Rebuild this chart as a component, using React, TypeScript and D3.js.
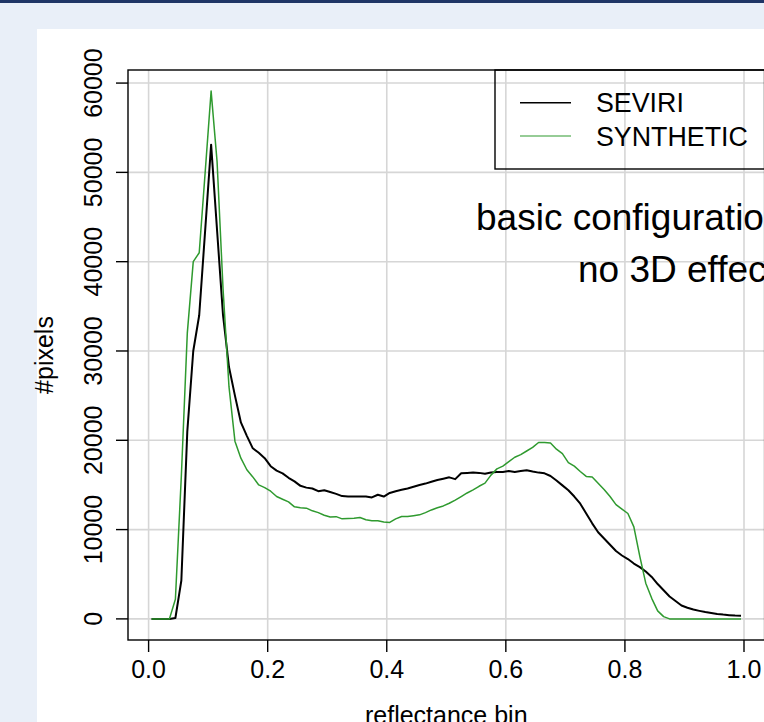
import React, { useEffect } from "react";
import * as d3 from "d3";

const bins: number[] = [
  0.005, 0.015, 0.025, 0.035, 0.045, 0.055, 0.065, 0.075, 0.085, 0.095,
  0.105, 0.115, 0.125, 0.135, 0.145, 0.155, 0.165, 0.175, 0.185, 0.195,
  0.205, 0.215, 0.225, 0.235, 0.245, 0.255, 0.265, 0.275, 0.285, 0.295,
  0.305, 0.315, 0.325, 0.335, 0.345, 0.355, 0.365, 0.375, 0.385, 0.395,
  0.405, 0.415, 0.425, 0.435, 0.445, 0.455, 0.465, 0.475, 0.485, 0.495,
  0.505, 0.515, 0.525, 0.535, 0.545, 0.555, 0.565, 0.575, 0.585, 0.595,
  0.605, 0.615, 0.625, 0.635, 0.645, 0.655, 0.665, 0.675, 0.685, 0.695,
  0.705, 0.715, 0.725, 0.735, 0.745, 0.755, 0.765, 0.775, 0.785, 0.795,
  0.805, 0.815, 0.825, 0.835, 0.845, 0.855, 0.865, 0.875, 0.885, 0.895,
  0.905, 0.915, 0.925, 0.935, 0.945, 0.955, 0.965, 0.975, 0.985, 0.995,
];

const seviri: number[] = [
  0, 0, 0, 0, 100, 4300, 21000, 30000, 34000, 43500,
  53100, 43500, 34000, 28200, 25000, 22000, 20500, 19100, 18600, 18000,
  17100, 16600, 16300, 15800, 15400, 14900, 14700, 14600, 14300, 14400,
  14200, 14000, 13750, 13700, 13700, 13700, 13700, 13600, 13900, 13700,
  14100, 14300, 14450, 14600, 14800, 15000, 15150, 15350, 15550, 15700,
  15850, 15650, 16300, 16350, 16400, 16350, 16250, 16400, 16450, 16450,
  16550, 16450, 16550, 16650, 16500, 16380, 16300, 16000, 15500, 14950,
  14400, 13700, 12900, 11800, 10700, 9700, 9000, 8300, 7600, 7100,
  6700, 6200, 5800, 5300, 4700, 3900, 3200, 2500, 2000, 1500,
  1250, 1050, 900, 760, 660, 560, 480, 420, 370, 340,
];

const synthetic: number[] = [
  0, 0, 0, 0, 2200, 16000, 32000, 40000, 41000, 50000,
  59100, 51200, 37000, 26000, 19900, 18000, 16700, 15900, 15000, 14700,
  14300, 13700, 13400, 13100, 12550, 12450, 12400, 12100, 11900, 11600,
  11400, 11450, 11200, 11250, 11280, 11350, 11100, 11000, 10980, 10850,
  10800, 11200, 11460, 11460, 11550, 11650, 11900, 12200, 12450, 12650,
  12950, 13300, 13700, 14100, 14450, 14850, 15200, 16100, 16800, 17100,
  17600, 18100, 18400, 18800, 19200, 19750, 19750, 19700, 19000, 18500,
  17500, 17100, 16500, 15950, 15900, 15200, 14500, 13700, 12800, 12300,
  11800, 10300, 7000, 4000, 2300, 900, 250, 0, 0, 0,
  0, 0, 0, 0, 0, 0, 0, 0, 0, 0,
];

const xTicks: number[] = [0, 0.2, 0.4, 0.6, 0.8, 1.0];
const xTickLabels: string[] = ["0.0", "0.2", "0.4", "0.6", "0.8", "1.0"];
const yTicks: number[] = [0, 10000, 20000, 30000, 40000, 50000, 60000];
const yTickLabels: string[] = ["0", "10000", "20000", "30000", "40000", "50000", "60000"];
const seriesNames: string[] = ["SEVIRI", "SYNTHETIC"];
const seriesColors: string[] = ["#000000", "#2f9a2f"];
const noteLines: string[] = ["basic configuration", "no 3D effects"];

const W = 764;
const H = 722;
const FONT = "'Liberation Sans', Arial, Helvetica, sans-serif";

export default function App() {
  useEffect(() => {
    document.body.style.margin = "0";
  }, []);

  const left = 128;
  const right = 764.6;
  const top = 70;
  const bottom = 640;

  const xMin = 0.005, xMax = 0.995;
  const xPad = (xMax - xMin) * 0.04;
  const x = d3.scaleLinear().domain([xMin - xPad, xMax + xPad]).range([left, right]);
  const yMaxData = 59100;
  const yPad = yMaxData * 0.04;
  const y = d3.scaleLinear().domain([-yPad, yMaxData + yPad]).range([bottom, top]);

  const line = d3
    .line<number>()
    .x((_, i) => x(bins[i]))
    .y((d) => y(d));

  const series = [seviri, synthetic];
  const widths = [2, 1.5];

  const legX = 495;
  const legRows = [102.7, 136];

  return (
    <div style={{ position: "absolute", left: 0, top: 0, width: W, height: H }}>
      <svg width={W} height={H} style={{ display: "block" }} fontFamily={FONT}>
        <rect x={0} y={0} width={W} height={H} fill="#e9eff8" />
        <rect x={0} y={0} width={W} height={3} fill="#1f3566" />
        <rect x={37} y={29} width={W - 37} height={H - 29} fill="#ffffff" />
        <defs>
          <clipPath id="plotclip">
            <rect x={left} y={top} width={right - left} height={bottom - top} />
          </clipPath>
        </defs>
        <g clipPath="url(#plotclip)">
          {xTicks.map((t) => (
            <line key={"gx" + t} x1={x(t)} x2={x(t)} y1={top} y2={bottom} stroke="#d6d6d6" strokeWidth={1.6} />
          ))}
          {yTicks.map((t) => (
            <line key={"gy" + t} x1={left} x2={right} y1={y(t)} y2={y(t)} stroke="#d6d6d6" strokeWidth={1.6} />
          ))}
          {series.map((s, k) => (
            <path
              key={"s" + k}
              d={line(s) || ""}
              fill="none"
              stroke={seriesColors[k]}
              strokeWidth={widths[k]}
              strokeLinejoin="round"
            />
          ))}
        </g>
        {/* box */}
        <rect x={left} y={top} width={right - left} height={bottom - top} fill="none" stroke="#000" strokeWidth={1.4} />
        {/* x axis ticks */}
        {xTicks.map((t, i) => (
          <g key={"xt" + t}>
            <line x1={x(t)} x2={x(t)} y1={bottom} y2={bottom + 12} stroke="#000" strokeWidth={1.4} />
            <text x={x(t)} y={678} textAnchor="middle" fontSize={25} fill="#000">
              {xTickLabels[i]}
            </text>
          </g>
        ))}
        {/* y axis ticks */}
        {yTicks.map((t, i) => (
          <g key={"yt" + t}>
            <line x1={left - 12} x2={left} y1={y(t)} y2={y(t)} stroke="#000" strokeWidth={1.4} />
            <text
              transform={`translate(101.5,${y(t)}) rotate(-90)`}
              textAnchor="middle"
              fontSize={25}
              fill="#000"
            >
              {yTickLabels[i]}
            </text>
          </g>
        ))}
        <text transform={`translate(53,${(top + bottom) / 2}) rotate(-90)`} textAnchor="middle" fontSize={25} fill="#000">
          #pixels
        </text>
        <text x={(left + right) / 2} y={724} textAnchor="middle" fontSize={25} fill="#000">
          reflectance bin
        </text>
        {/* legend */}
        <rect x={legX} y={top} width={right - legX} height={99} fill="none" stroke="#000" strokeWidth={1.4} />
        {seriesNames.map((n, k) => (
          <g key={"leg" + k}>
            <line x1={520} x2={571} y1={legRows[k]} y2={legRows[k]} stroke={seriesColors[k]} strokeWidth={widths[k] * 0.8} />
            <text x={596} y={legRows[k] + 9.5} fontSize={26.8} fill="#000">
              {n}
            </text>
          </g>
        ))}
        {/* annotation */}
        <text x={476} y={230} fontSize={37} fill="#000">
          {noteLines[0]}
        </text>
        <text x={578} y={282} fontSize={37} fill="#000">
          {noteLines[1]}
        </text>
      </svg>
    </div>
  );
}
